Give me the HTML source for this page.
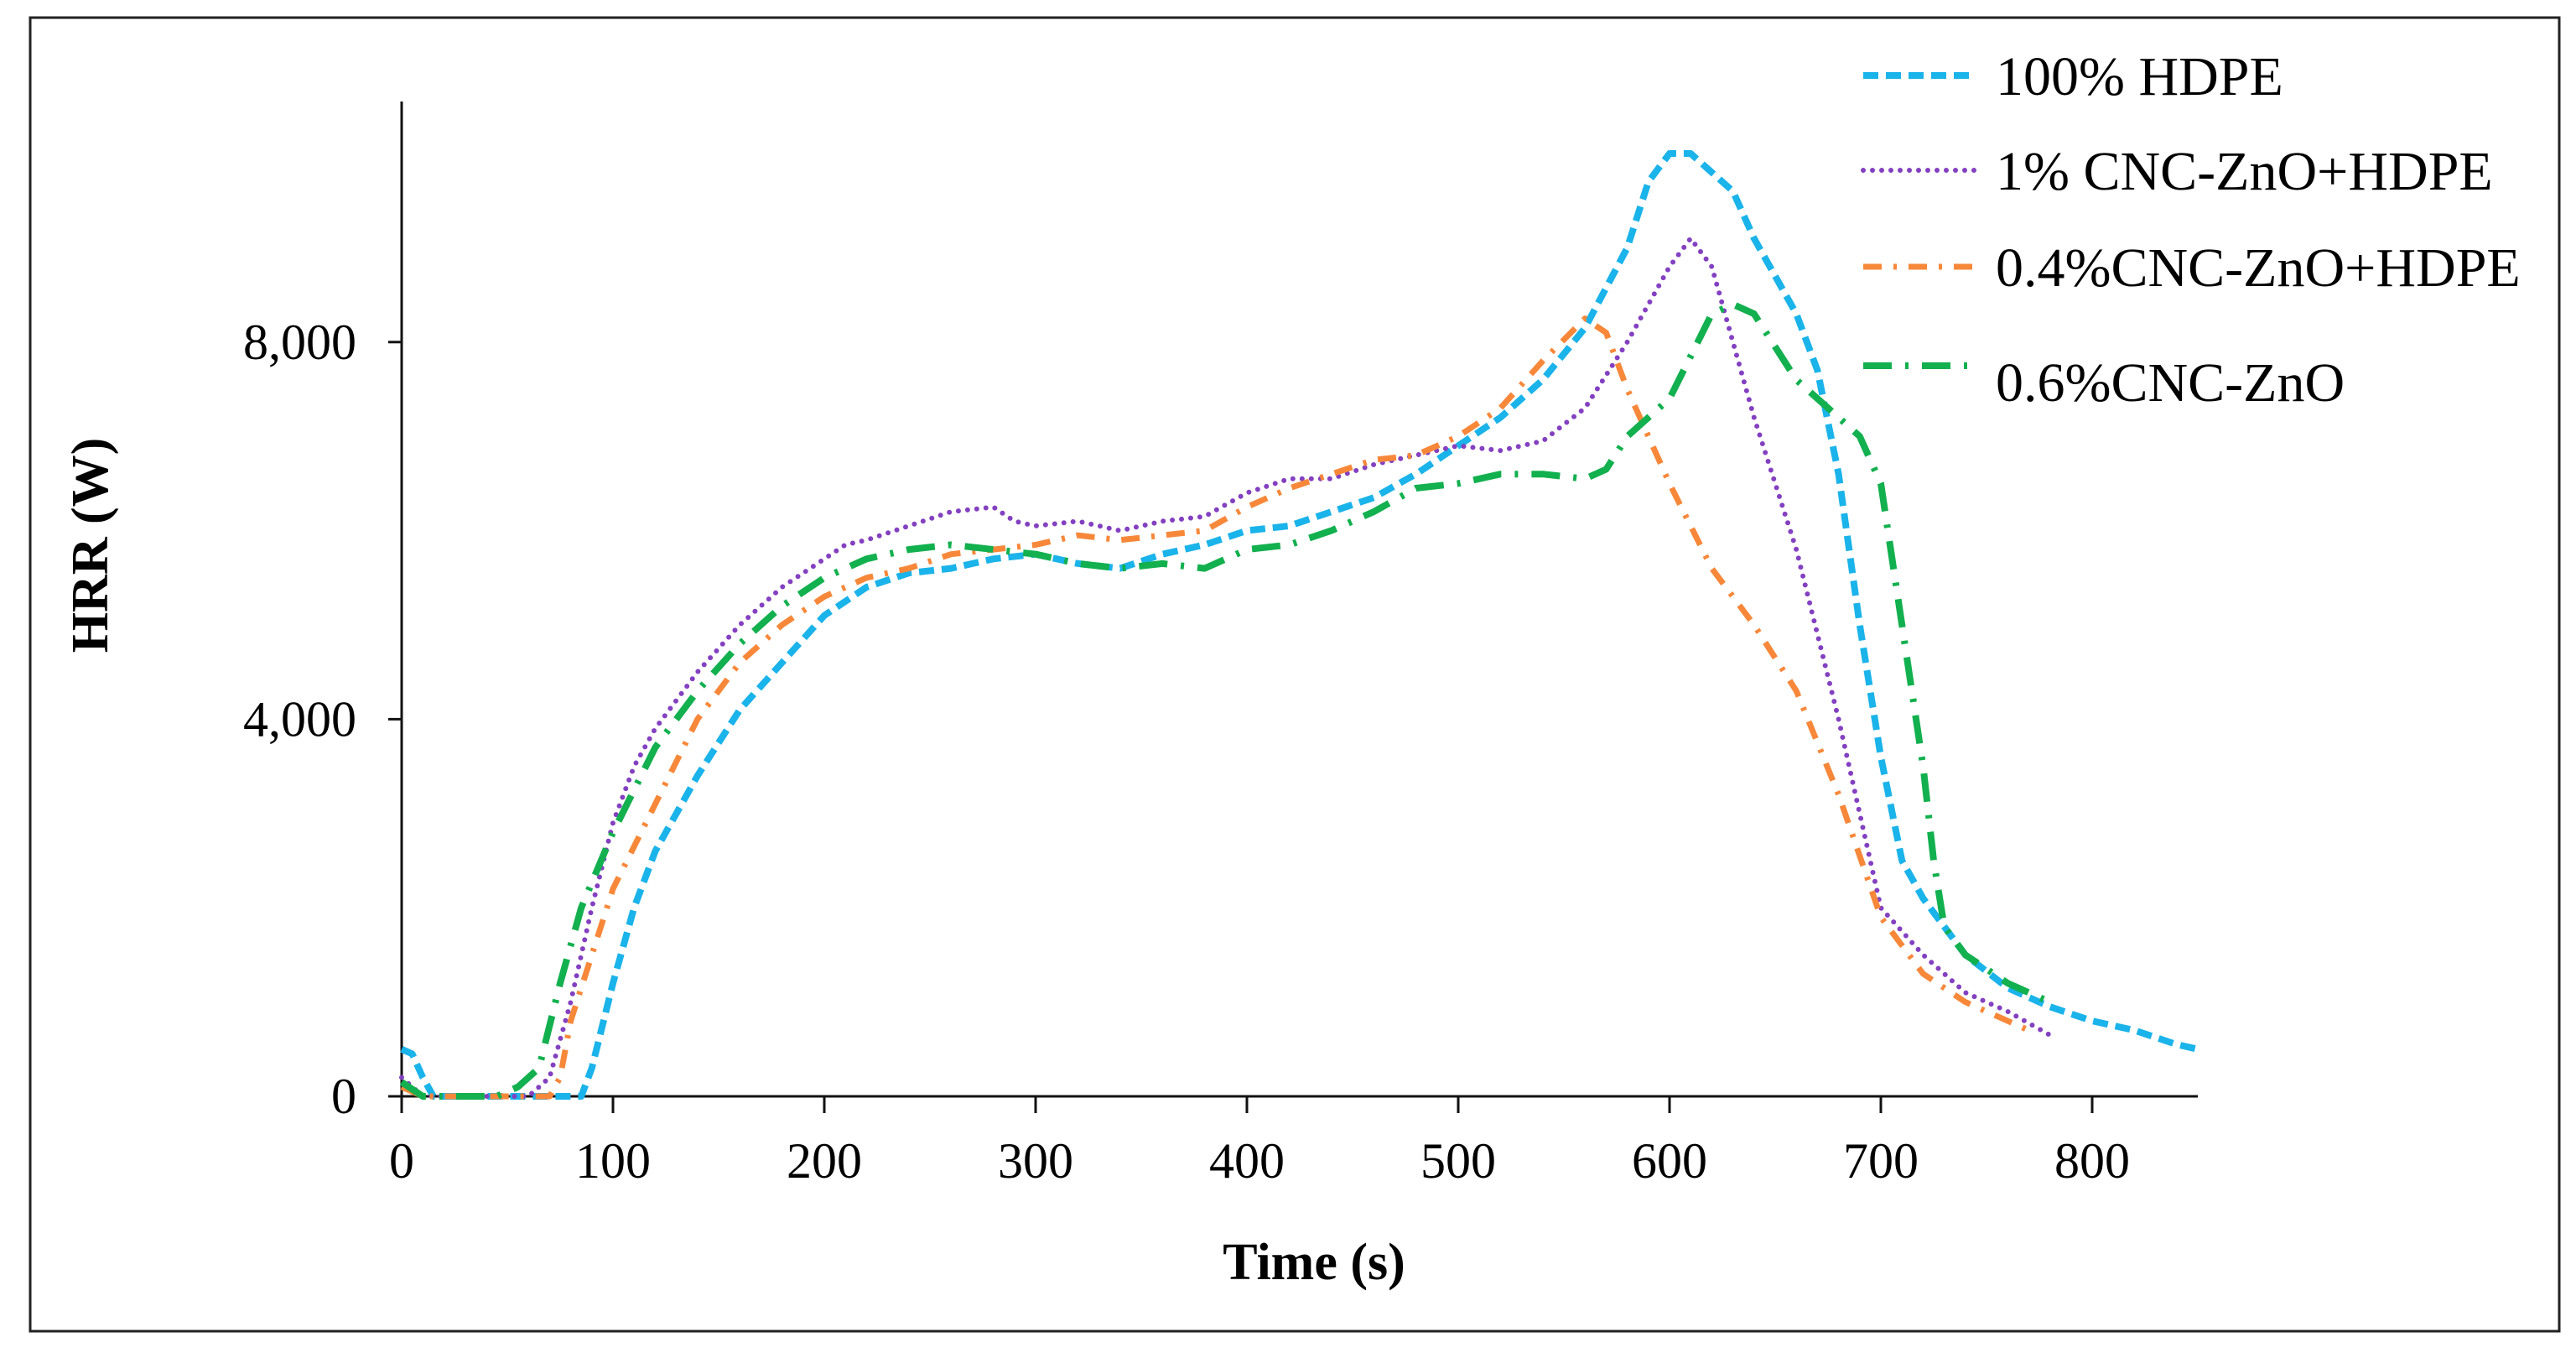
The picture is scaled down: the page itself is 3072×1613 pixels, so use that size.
<!DOCTYPE html>
<html><head><meta charset="utf-8"><style>
html,body{margin:0;padding:0;background:#fff;width:3072px;height:1613px;overflow:hidden}
svg{display:block}
text{font-family:"Liberation Serif",serif;fill:#000}
</style></head><body>
<svg id="chart" width="3072" height="1613" viewBox="0 0 3072 1613" xmlns="http://www.w3.org/2000/svg">
<rect x="36" y="21" width="3016" height="1566" fill="#fff" stroke="#222" stroke-width="3"/>
<g id="axes"></g>
<g id="series"></g>
<text transform="translate(128,650) rotate(-90)" text-anchor="middle" font-size="62" font-weight="bold">HRR (W)</text>
<text x="1567" y="1525" text-anchor="middle" font-size="62" font-weight="bold">Time (s)</text>
<g id="legend"></g>
</svg>
<script>
const xTicks=[0,100,200,300,400,500,600,700,800];
const yTicks=[0,4000,8000];
const yTickLabels=["0","4,000","8,000"];
const seriesNames=["100% HDPE","1% CNC-ZnO+HDPE","0.4%CNC-ZnO+HDPE","0.6%CNC-ZnO"];
const hdpeT=[0,5,10,15,30,50,70,85,90,100,110,120,140,160,180,200,220,240,260,280,300,320,340,360,380,400,420,440,460,480,500,520,540,560,580,590,600,610,620,630,640,660,670,680,690,700,710,720,730,740,760,780,800,820,840,850];
const hdpeV=[500,450,200,0,0,0,0,0,300,1200,2000,2600,3400,4100,4600,5100,5400,5550,5600,5700,5750,5650,5600,5750,5850,6000,6050,6200,6350,6600,6900,7200,7600,8150,9000,9700,10000,10000,9800,9600,9100,8300,7700,6600,5000,3600,2500,2100,1800,1500,1150,950,800,700,550,500];
const cnc1T=[0,10,30,60,70,80,90,100,110,120,140,160,180,200,210,220,240,260,280,290,300,320,340,360,380,400,420,440,460,480,500,520,540,560,580,600,610,620,630,640,660,680,690,700,720,740,760,780];
const cnc1V=[200,0,0,0,200,1000,2000,2900,3500,3900,4500,5000,5400,5700,5850,5900,6050,6200,6250,6100,6050,6100,6000,6100,6150,6400,6550,6550,6700,6800,6900,6850,6950,7300,8000,8800,9100,8800,8000,7200,5800,4000,3000,2000,1500,1100,900,650];
const cnc04T=[0,10,40,70,75,80,90,100,120,140,160,180,200,220,240,260,280,300,320,340,360,380,400,420,440,460,480,500,520,540,560,570,580,600,620,640,660,680,700,720,740,760,770];
const cnc04V=[100,0,0,0,200,800,1500,2200,3100,4000,4600,5000,5300,5500,5600,5750,5800,5850,5950,5900,5950,6000,6250,6450,6600,6750,6800,7000,7300,7800,8250,8100,7500,6500,5600,5000,4300,3200,1900,1300,1000,800,700];
const cnc06T=[0,10,20,45,55,65,75,85,100,120,140,160,180,200,220,240,260,280,300,320,340,360,380,400,420,440,460,480,500,520,540,560,570,580,600,620,630,640,660,680,690,700,710,720,725,730,740,760,780];
const cnc06V=[150,0,0,0,100,300,1200,2000,2800,3700,4300,4800,5200,5500,5700,5800,5850,5800,5750,5650,5600,5650,5600,5800,5850,6000,6200,6450,6500,6600,6600,6550,6650,7000,7400,8300,8400,8300,7600,7200,7000,6500,5000,3500,2500,1800,1500,1200,1000];

const X0=479, PXPERS=2.52, Y0=1307, PXPERW=0.1124;
const sx=t=>X0+t*PXPERS;
const sy=v=>Y0-v*PXPERW;
const NS="http://www.w3.org/2000/svg";
function mk(tag,attrs,parent){const e=document.createElementNS(NS,tag);for(const k in attrs)e.setAttribute(k,attrs[k]);parent.appendChild(e);return e;}
const axes=document.getElementById('axes');
let ax=mk('line',{x1:X0,y1:121,x2:X0,y2:Y0,stroke:'#111','stroke-width':3},axes);


let bx=mk('line',{x1:X0-16,y1:Y0,x2:sx(850),y2:Y0,stroke:'#111','stroke-width':3},axes);


xTicks.forEach(t=>{
  const l=mk('line',{x1:sx(t),y1:Y0,x2:sx(t),y2:Y0+20,stroke:'#111','stroke-width':3},axes);
  
  
  const tx=mk('text',{x:sx(t),y:1404,'text-anchor':'middle','font-size':60},axes);
  tx.textContent=String(t);
  
  
});
yTicks.forEach((v,i)=>{
  const l=mk('line',{x1:X0-16,y1:sy(v),x2:X0,y2:sy(v),stroke:'#111','stroke-width':3},axes);
  
  
  const tx=mk('text',{x:425,y:sy(v)+20,'text-anchor':'end','font-size':60},axes);
  tx.textContent=yTickLabels[i];
  
  
});
const styles=[
 {c:'#1ab3ea',w:8,d:'18 9',cap:'butt'},
 {c:'#8340c0',w:6,d:'0 11',cap:'round'},
 {c:'#f7883a',w:7,d:'22 14 4 14',cap:'butt'},
 {c:'#12b04e',w:8,d:'34 16 4 16',cap:'butt'}];
const data=[[hdpeT,hdpeV],[cnc1T,cnc1V],[cnc04T,cnc04V],[cnc06T,cnc06V]];
const names=['series-100-hdpe','series-1-cnc-zno','series-0-4-cnc-zno','series-0-6-cnc-zno'];
const sg=document.getElementById('series');
data.forEach((d,i)=>{
  const pts=d[0].map((t,j)=>sx(t).toFixed(1)+','+sy(d[1][j]).toFixed(1)).join(' ');
  const p=mk('polyline',{points:pts,fill:'none',stroke:styles[i].c,'stroke-width':styles[i].w,'stroke-dasharray':styles[i].d,'stroke-linecap':styles[i].cap,'stroke-linejoin':'round'},sg);
  
  
});
const lg=document.getElementById('legend');
const rowY=[90,203,318,436];
seriesNames.forEach((n,i)=>{
  const g=mk('g',{},lg);
  
  
  mk('line',{x1:2222,y1:rowY[i],x2:2356,y2:rowY[i],stroke:styles[i].c,'stroke-width':styles[i].w,'stroke-dasharray':styles[i].d,'stroke-linecap':styles[i].cap},g);
  const t=mk('text',{x:2380,y:rowY[i]+(i==3?42:23),'font-size':66},g);
  t.textContent=n;
});
</script>
</body></html>
